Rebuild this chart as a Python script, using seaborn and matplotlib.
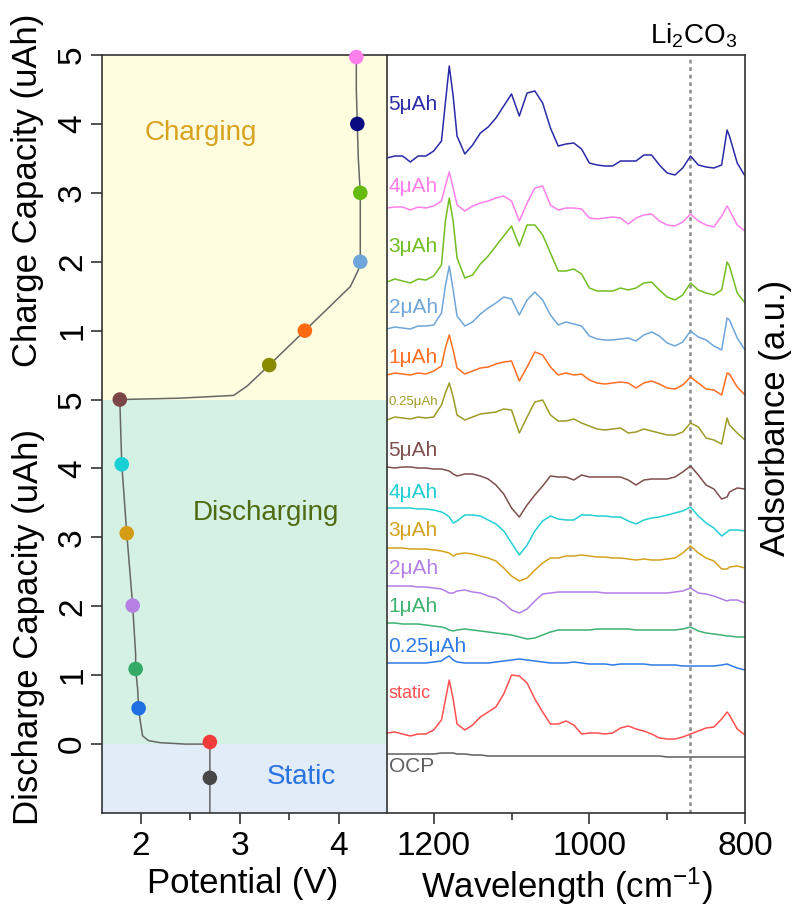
import matplotlib
matplotlib.use("Agg")
import matplotlib.pyplot as plt
import seaborn as sns
import numpy as np
from matplotlib.ticker import FixedLocator

sns.set_theme(style="ticks")
plt.rcParams["font.family"] = ["Liberation Sans", "DejaVu Sans"]
plt.rcParams["mathtext.fontset"] = "custom"
plt.rcParams["mathtext.rm"] = "Liberation Sans"
plt.rcParams["mathtext.it"] = "Liberation Sans"
plt.rcParams["mathtext.default"] = "regular"
plt.rcParams["text.color"] = "black"
plt.rcParams["axes.labelcolor"] = "black"

# ---------------- potential profile (left) ----------------
# capacity axis: discharge capacity d -> d ; charge capacity c -> 5 + c ; OCP below 0
curve_potential = [2.70, 2.70, 2.70, 2.45, 2.20, 2.08, 2.02, 2.00, 1.98, 1.97, 1.95, 1.95,
                   1.92, 1.86, 1.81, 1.80, 1.79, 2.40, 2.94, 3.08, 3.30, 3.66, 4.12, 4.20,
                   4.22, 4.22, 4.20, 4.19, 4.18, 4.18]
curve_capacity = [-1.00, -0.49, 0.00, 0.00, 0.02, 0.05, 0.12, 0.30, 0.52, 0.80, 1.09, 1.30,
                  2.01, 3.06, 4.06, 4.50, 5.00, 5.02, 5.06, 5.20, 5.50, 6.00, 6.64, 6.88,
                  7.00, 8.00, 8.50, 9.00, 9.50, 10.00]

state_potential = [2.70, 2.70, 1.98, 1.95, 1.92, 1.86, 1.81, 1.79, 3.30, 3.66, 4.22, 4.22, 4.19, 4.18]
state_capacity = [-0.49, 0.03, 0.52, 1.09, 2.01, 3.06, 4.06, 5.00, 5.50, 6.00, 7.00, 8.00, 9.00, 9.97]
state_colors = ["#474747", "#F23B3B", "#1F6FE3", "#33AA66", "#B57FE3", "#D49B14", "#19CFD6",
                "#7A4646", "#8A8A00", "#FF6A10", "#6FA6DA", "#66BB11", "#0A0A80", "#FF80EC"]

cap_ticks = [0, 1, 2, 3, 4, 5, 6, 7, 8, 9, 10]
cap_ticklabels = ["0", "1", "2", "3", "4", "5", "1", "2", "3", "4", "5"]
potential_ticks = [2, 3, 4]

# ---------------- in situ spectra (right) ----------------
wavenumber = [1260, 1250, 1240, 1230, 1220, 1210, 1200, 1190, 1185, 1180, 1175, 1170,
              1160, 1150, 1140, 1130, 1120, 1110, 1100, 1090, 1080, 1070, 1060, 1050,
              1040, 1030, 1020, 1010, 1000, 990, 980, 970, 960, 950, 940, 930, 920, 910,
              900, 890, 880, 870, 860, 850, 840, 830, 823, 820, 810, 800]

charge_5 = [0, 0.02, 0.02, -0.04, 0.02, 0.02, 0.07, 0.17, 0.55, 0.92, 0.62, 0.22,
            0.04, 0.13, 0.25, 0.31, 0.40, 0.52, 0.64, 0.42, 0.65, 0.67, 0.55, 0.30,
            0.12, 0.14, 0.15, 0.09, -0.05, -0.07, -0.08, -0.08, -0.03, -0.03, -0.03, 0.03, 0.03, -0.07,
            -0.15, -0.17, -0.10, 0.02, -0.07, -0.09, -0.10, -0.07, 0.28, 0.22, -0.05, -0.18]
charge_4 = [0, 0.01, 0.01, -0.02, 0.01, 0, 0.02, 0.07, 0.22, 0.36, 0.20, 0.03,
            -0.03, 0.02, 0.05, 0.07, 0.10, 0.12, 0.07, -0.13, 0.05, 0.20, 0.22, 0.03,
            -0.02, 0, 0, -0.01, -0.10, -0.11, -0.10, -0.09, -0.10, -0.16, -0.10, -0.07, -0.06, -0.13,
            -0.17, -0.18, -0.14, -0.06, -0.13, -0.17, -0.19, -0.08, 0.02, -0.02, -0.17, -0.23]
charge_3 = [0, 0.03, 0.01, -0.01, 0.03, 0.02, 0.06, 0.17, 0.61, 0.84, 0.61, 0.24,
            0.04, 0.07, 0.18, 0.26, 0.36, 0.46, 0.56, 0.36, 0.57, 0.57, 0.47, 0.29,
            0.11, 0.11, 0.13, 0.08, -0.06, -0.09, -0.09, -0.09, -0.06, -0.08, -0.06, -0.01, 0, -0.08,
            -0.15, -0.18, -0.13, -0.01, -0.08, -0.11, -0.13, -0.08, 0.20, 0.16, -0.11, -0.21]
charge_2 = [0, 0.02, 0.01, 0, 0.03, 0.03, 0.04, 0.16, 0.43, 0.63, 0.39, 0.13,
            0.03, 0.07, 0.15, 0.21, 0.26, 0.32, 0.30, 0.14, 0.29, 0.37, 0.29, 0.14,
            0.04, 0.07, 0.05, 0.03, -0.07, -0.10, -0.11, -0.11, -0.10, -0.09, -0.12, -0.06, -0.03, -0.07,
            -0.14, -0.17, -0.13, -0.02, -0.08, -0.11, -0.17, -0.21, 0.11, 0.09, -0.09, -0.21]
charge_1 = [0, 0.02, 0.01, 0, 0.02, 0.01, 0.04, 0.09, 0.27, 0.40, 0.25, 0.07,
            0.01, 0.04, 0.07, 0.08, 0.11, 0.13, 0.14, -0.06, 0.08, 0.23, 0.20, 0.08,
            0, 0.02, 0, 0.01, -0.05, -0.08, -0.09, -0.08, -0.07, -0.08, -0.13, -0.08, -0.06, -0.09,
            -0.13, -0.14, -0.10, -0.02, -0.08, -0.14, -0.15, -0.20, 0.02, 0.01, -0.12, -0.20]
charge_025 = [0, 0.03, 0.02, 0.01, 0.03, 0.02, 0.03, 0.15, 0.27, 0.37, 0.23, 0.05,
              0, 0.03, 0.06, 0.07, 0.08, 0.11, 0.10, -0.13, 0.03, 0.18, 0.20, 0.05,
              -0.01, -0.01, 0.01, -0.03, -0.06, -0.09, -0.10, -0.09, -0.08, -0.13, -0.12, -0.09, -0.11, -0.13,
              -0.15, -0.15, -0.12, -0.03, -0.07, -0.18, -0.20, -0.24, 0.02, -0.05, -0.13, -0.20]
discharge_5 = [0, -0.01, 0, 0, -0.01, -0.01, -0.02, -0.02, -0.03, -0.04, -0.07, -0.09,
               -0.07, -0.07, -0.09, -0.12, -0.18, -0.27, -0.41, -0.50, -0.38, -0.28, -0.19, -0.09,
               -0.10, -0.10, -0.13, -0.08, -0.10, -0.10, -0.10, -0.10, -0.10, -0.13, -0.18, -0.13, -0.12, -0.12,
               -0.12, -0.10, -0.05, 0.01, -0.08, -0.18, -0.22, -0.32, -0.30, -0.25, -0.21, -0.22]
discharge_4 = [0, 0, 0, 0, -0.01, -0.01, -0.02, -0.04, -0.06, -0.09, -0.15, -0.13,
               -0.07, -0.07, -0.08, -0.12, -0.16, -0.23, -0.35, -0.47, -0.37, -0.23, -0.13, -0.08,
               -0.11, -0.12, -0.12, -0.07, -0.07, -0.08, -0.08, -0.09, -0.09, -0.13, -0.16, -0.12, -0.10, -0.09,
               -0.07, -0.05, -0.03, 0.01, -0.08, -0.15, -0.20, -0.28, -0.24, -0.22, -0.22, -0.23]
discharge_3 = [0, 0, 0, -0.01, -0.01, -0.01, -0.02, -0.03, -0.04, -0.05, -0.08, -0.06,
               -0.05, -0.06, -0.08, -0.10, -0.13, -0.20, -0.28, -0.33, -0.30, -0.22, -0.15, -0.10,
               -0.10, -0.08, -0.08, -0.07, -0.08, -0.09, -0.09, -0.10, -0.10, -0.11, -0.12, -0.11, -0.12, -0.12,
               -0.11, -0.10, -0.05, 0.02, -0.05, -0.10, -0.13, -0.21, -0.21, -0.19, -0.18, -0.20]
discharge_2 = [0, 0, 0, 0, -0.01, -0.01, -0.02, -0.03, -0.05, -0.07, -0.07, -0.05,
               -0.04, -0.06, -0.07, -0.10, -0.12, -0.17, -0.24, -0.27, -0.23, -0.15, -0.08, -0.07,
               -0.06, -0.06, -0.06, -0.06, -0.06, -0.06, -0.07, -0.07, -0.07, -0.07, -0.07, -0.07, -0.07, -0.07,
               -0.07, -0.06, -0.05, -0.02, -0.07, -0.08, -0.10, -0.13, -0.15, -0.14, -0.14, -0.17]
discharge_1 = [0, 0, -0.01, -0.01, -0.01, -0.02, -0.03, -0.04, -0.05, -0.07, -0.08, -0.07,
               -0.06, -0.07, -0.08, -0.09, -0.10, -0.11, -0.12, -0.14, -0.16, -0.15, -0.12, -0.09,
               -0.07, -0.07, -0.07, -0.07, -0.07, -0.06, -0.06, -0.06, -0.06, -0.06, -0.07, -0.07, -0.07, -0.07,
               -0.07, -0.07, -0.06, -0.04, -0.08, -0.10, -0.11, -0.12, -0.13, -0.13, -0.14, -0.14]
discharge_025 = [0, 0, 0, 0, 0, 0, 0.01, 0.02, 0.05, 0.07, 0.03, 0.01,
                 0, 0, 0, 0, 0.01, 0.02, 0.03, 0.04, 0.03, 0.02, 0.01, 0,
                 0, 0, 0.01, 0, -0.01, -0.01, -0.01, -0.02, -0.01, -0.01, -0.01, -0.01, -0.02, -0.02,
                 -0.02, -0.02, -0.03, -0.03, -0.03, -0.03, -0.03, -0.02, -0.01, -0.02, -0.05, -0.07]
static = [0, 0.01, -0.01, -0.03, -0.01, -0.01, 0.03, 0.13, 0.33, 0.53, 0.34, 0.09,
          0.03, 0.08, 0.16, 0.21, 0.26, 0.39, 0.58, 0.57, 0.50, 0.34, 0.21, 0.09,
          0.09, 0.12, 0.08, -0.01, 0, 0, -0.01, 0, 0.05, 0.07, 0.04, 0.02, -0.01, -0.05,
          -0.06, -0.06, -0.04, -0.01, 0.02, 0.05, 0.06, 0.14, 0.21, 0.18, 0.04, -0.02]
ocp = [0, 0, 0, 0, 0, 0, 0, 0.01, 0.01, 0.01, 0.01, 0,
       0, -0.01, -0.01, -0.02, -0.02, -0.02, -0.02, -0.02, -0.02, -0.02, -0.02, -0.02,
       -0.02, -0.02, -0.02, -0.02, -0.02, -0.02, -0.02, -0.02, -0.02, -0.02, -0.02, -0.02, -0.02, -0.02,
       -0.03, -0.03, -0.03, -0.03, -0.03, -0.03, -0.03, -0.03, -0.03, -0.03, -0.03, -0.03]

spectra = [charge_5, charge_4, charge_3, charge_2, charge_1, charge_025,
           discharge_5, discharge_4, discharge_3, discharge_2, discharge_1, discharge_025,
           static, ocp]
spectrum_labels = ["5μAh", "4μAh", "3μAh", "2μAh", "1μAh", "0.25μAh",
                   "5μAh", "4μAh", "3μAh", "2μAh", "1μAh", "0.25μAh", "static", "OCP"]
spectrum_offsets = [6.55, 6.05, 5.31, 4.84, 4.38, 3.93, 3.46, 3.05, 2.65, 2.27, 1.90, 1.50, 0.80, 0.59]
label_heights = [7.08, 6.26, 5.66, 5.06, 4.56, 4.11, 3.63, 3.21, 2.83, 2.45, 2.06, 1.66, 1.20, 0.46]
label_sizes = [15, 15, 15, 15, 15, 9.5, 15, 15, 15, 15, 15, 15, 13, 15]
spectrum_colors = ["#2A2AA8", "#FF7FEA", "#72BD22", "#6FA6DA", "#FF6E22", "#9C9C28",
                   "#7E4F4F", "#22CFD4", "#D4A21E", "#B37FE6", "#3DB271", "#2E7BE6",
                   "#FF4F4F", "#5E5E5E"]
li2co3_position = 871
wn_ticks = [1200, 1000, 800]
wn_minor = [1100, 900]

# ---------------- figure ----------------
W, H = 798, 908
fig = plt.figure(figsize=(W / 100, H / 100), dpi=100)
fig.patch.set_facecolor("white")


def px_axes(x0, y0, x1, y1):
    return fig.add_axes([x0 / W, 1 - y1 / H, (x1 - x0) / W, (y1 - y0) / H])


ax = px_axes(102, 55, 387, 813)
axr = px_axes(387, 55, 745, 813)

spine_col = "#333333"
for a in (ax, axr):
    a.set_facecolor("white")
    for s in a.spines.values():
        s.set_color(spine_col)
        s.set_linewidth(1.2)
    a.tick_params(which="major", direction="out", length=8, width=1.2, color=spine_col,
                  labelsize=24, labelcolor="black", pad=4)
    a.tick_params(which="minor", direction="out", length=5, width=1.2, color=spine_col)

# --- left panel ---
ax.axhspan(5, 10, color="#FFFDE0", lw=0, zorder=0)
ax.axhspan(0, 5, color="#D5F1E3", lw=0, zorder=0)
ax.axhspan(-1, 0, color="#E2ECF9", lw=0, zorder=0)
sns.lineplot(x=curve_potential, y=curve_capacity, sort=False, estimator=None,
             color="#666666", lw=1.1, ax=ax, zorder=2)
sns.scatterplot(x=state_potential, y=state_capacity, hue=list(range(len(state_colors))),
                palette=state_colors, s=110, linewidth=0, legend=False, ax=ax, zorder=3,
                clip_on=False)
ax.set_xlim(1.61, 4.49)
ax.set_ylim(-1, 10)
ax.xaxis.set_major_locator(FixedLocator(potential_ticks))
ax.xaxis.set_minor_locator(FixedLocator([2.5, 3.5]))
ax.set_yticks(cap_ticks)
ax.set_yticklabels(cap_ticklabels, rotation=90, va="center")
ax.tick_params(axis="y", pad=2)
ax.tick_params(axis="x", pad=5)
ax.spines["right"].set_visible(False)
ax.set_xlabel("")
ax.set_ylabel("")

ax.text(2.61, 8.87, "Charging", color="#D9A21E", fontsize=20, ha="center", va="center")
ax.text(3.27, 3.35, "Discharging", color="#4F6B12", fontsize=20, ha="center", va="center")
ax.text(3.62, -0.48, "Static", color="#2A74E0", fontsize=20, ha="center", va="center")

# --- right panel ---
for vals, off, col in zip(spectra, spectrum_offsets, spectrum_colors):
    sns.lineplot(x=wavenumber, y=np.asarray(vals) + off, sort=False, estimator=None,
                 color=col, lw=1.1, ax=axr)
for lab, yl, fs, col in zip(spectrum_labels, label_heights, label_sizes, spectrum_colors):
    axr.text(1258, yl, lab, color=col, fontsize=fs, ha="left", va="center")

axr.axvline(li2co3_position, color="#8C8C8C", ls=(0, (1.5, 1.5)), lw=1.8, zorder=1)
axr.text(866, 7.70, "Li$_2$CO$_3$", fontsize=20, ha="center", va="baseline", clip_on=False)
axr.set_xlim(1260, 800)
axr.set_ylim(0, 7.58)
axr.xaxis.set_major_locator(FixedLocator(wn_ticks))
axr.xaxis.set_minor_locator(FixedLocator(wn_minor))
axr.set_yticks([])
axr.tick_params(axis="x", pad=5)
axr.set_xlabel("")
axr.set_ylabel("")

# --- axis titles ---
fig.text(243 / W, 1 - 883 / H, "Potential (V)", fontsize=25, ha="center", va="center")
fig.text(567 / W, 1 - 886 / H, "Wavelength (cm$^{-1}$)", fontsize=25, ha="center", va="center")
fig.text(28 / W, 1 - 190 / H, "Charge Capacity (uAh)", fontsize=25, rotation=90,
         ha="center", va="center")
fig.text(29 / W, 1 - 627 / H, "Discharge Capacity (uAh)", fontsize=25, rotation=90,
         ha="center", va="center")
fig.text(776 / W, 1 - 418 / H, "Adsorbance (a.u.)", fontsize=25, rotation=90,
         ha="center", va="center")

fig.savefig("out.png", dpi=100)
